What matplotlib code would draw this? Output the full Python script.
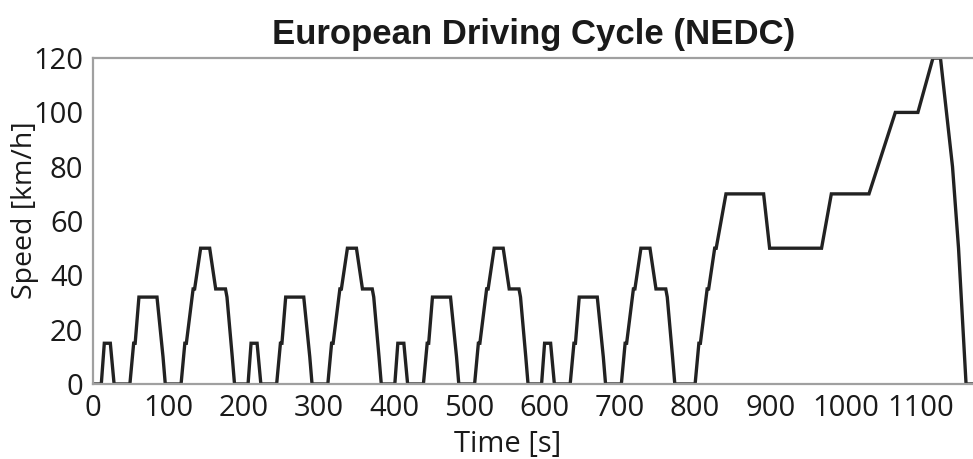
import numpy as np
import matplotlib
matplotlib.use("Agg")
from matplotlib import pyplot as plt

# ECE-15 urban cycle (one repetition, 195 s), repeated 4 times
ece_time = [0, 11, 15, 23, 28, 49, 54, 56, 61, 85, 93, 96, 117, 122, 124, 133, 135,
            143, 155, 163, 176, 178, 185, 188, 195]
ece_speed = [0, 0, 15, 15, 0, 0, 15, 15, 32, 32, 10, 0, 0, 15, 15, 35, 35,
             50, 50, 35, 35, 32, 10, 0, 0]
ece_repeats = 4
ece_length = 195

# EUDC extra-urban part (starts at 780 s)
eudc_time = [0, 20, 25, 27, 36, 38, 46, 48, 61, 111, 119, 188, 201, 251, 286, 316,
             336, 346, 362, 370, 380, 400]
eudc_speed = [0, 0, 15, 15, 35, 35, 50, 50, 70, 70, 50, 50, 70, 70, 100, 100,
              120, 120, 80, 50, 0, 0]

x_ticks = [0, 100, 200, 300, 400, 500, 600, 700, 800, 900, 1000, 1100]
y_ticks = [0, 20, 40, 60, 80, 100, 120]

t = []
v = []
for k in range(ece_repeats):
    t += [k * ece_length + x for x in ece_time]
    v += ece_speed
t += [ece_repeats * ece_length + x for x in eudc_time]
v += eudc_speed

plt.rcParams['font.family'] = ['Open Sans', 'DejaVu Sans']
txt = '#1a1a1a'

fig = plt.figure(figsize=(9.73, 4.59), dpi=100)
ax = fig.add_axes([0.0956, 0.1634, 0.905, 0.710])
ax.plot(t, v, color='#222222', lw=2.4, solid_joinstyle='miter')

ax.set_xlim(0, 1170)
ax.set_ylim(0, 120)
ax.set_xticks(x_ticks)
ax.set_yticks(y_ticks)
ax.tick_params(length=0, labelsize=21, colors=txt)
ax.tick_params(axis='x', pad=7)
ax.tick_params(axis='y', pad=7)
for s in ['left', 'top', 'bottom']:
    ax.spines[s].set_color('#a0a0a0')
    ax.spines[s].set_linewidth(1.6)
ax.spines['right'].set_visible(False)

ax.set_xlabel('Time [s]', fontsize=21, color=txt)
ax.xaxis.set_label_coords(0.471, -0.141)
ax.set_ylabel('Speed [km/h]', fontsize=20.5, color=txt)
ax.yaxis.set_label_coords(-0.061, 0.534)
ax.set_title('European Driving Cycle (NEDC)', fontsize=25, fontweight='bold',
             family=['Liberation Sans', 'DejaVu Sans'], color=txt, pad=10)

fig.savefig('out.png', dpi=100)
